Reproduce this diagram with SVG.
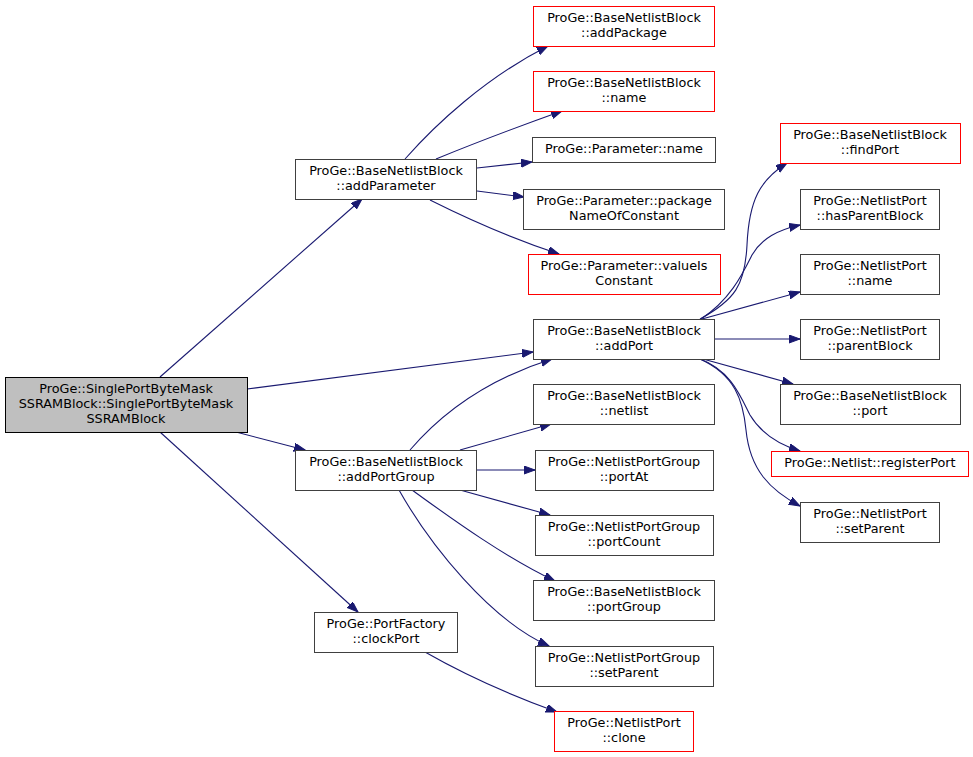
<svg xmlns="http://www.w3.org/2000/svg" width="973" height="757" viewBox="0 0 973 757">
<style>
rect{fill:#fff;stroke:#404040;stroke-width:1}
.r rect{stroke:#ff0000}
.root rect{fill:#bfbfbf;stroke:#000}
text{font-family:"DejaVu Sans","Liberation Sans",sans-serif;font-size:12.8px;text-anchor:middle;fill:#000}
#edges path{fill:none;stroke:#191970;stroke-width:1.1;marker-end:url(#ah)}
</style>
<defs>
<marker id="ah" markerUnits="userSpaceOnUse" markerWidth="12" markerHeight="9" refX="11" refY="4" orient="auto">
<path d="M0,0 L11,4 L0,8 z" fill="#191970" stroke="#191970" stroke-width="1"/>
</marker>
</defs>
<rect x="0" y="0" width="973" height="757" style="fill:#fff;stroke:none"/>
<g id="edges">
<path d="M160,377 L362,199"/>
<path d="M247,389 L533,352"/>
<path d="M236,432 L305,450"/>
<path d="M160,432 L358,612"/>
<path d="M405,159 C435,125 485,78 548,46"/>
<path d="M436,159 C470,145 520,126 562,111"/>
<path d="M477,168 L532,162"/>
<path d="M477,191 L524,197"/>
<path d="M430,200 C460,215 510,238 559,254"/>
<path d="M410,450 C440,415 485,380 552,359"/>
<path d="M460,450 L551,424"/>
<path d="M476,470 L535,470"/>
<path d="M460,490 L550,515"/>
<path d="M412,490 C440,510 500,555 555,581"/>
<path d="M399,490 C430,545 490,620 549,646"/>
<path d="M425,652 C460,672 510,695 557,712"/>
<path d="M700,319 C735,300 745,285 747,245 C749,200 760,180 787,163"/>
<path d="M701,319 C730,300 742,275 752,255 C762,238 778,230 800,225"/>
<path d="M702,319 L800,292"/>
<path d="M713,339 L800,339"/>
<path d="M703,359 L793,384"/>
<path d="M700,359 C730,370 740,395 750,415 C762,435 780,445 800,451"/>
<path d="M700,359 C735,375 743,400 746,430 C750,470 770,490 800,506"/>
</g>
<g id="root" class="root"><rect x="5.5" y="377.5" width="242" height="55"/><text x="126" y="393">ProGe::SinglePortByteMask</text><text x="126" y="408">SSRAMBlock::SinglePortByteMask</text><text x="126" y="423">SSRAMBlock</text></g>
<g id="addParameter"><rect x="295.5" y="159.5" width="181" height="40"/><text x="386" y="175">ProGe::BaseNetlistBlock</text><text x="386" y="190">::addParameter</text></g>
<g id="addPortGroup"><rect x="295.5" y="450.5" width="181" height="40"/><text x="386" y="466">ProGe::BaseNetlistBlock</text><text x="386" y="481">::addPortGroup</text></g>
<g id="clockPort"><rect x="314.5" y="612.5" width="143" height="40"/><text x="386" y="628">ProGe::PortFactory</text><text x="386" y="643">::clockPort</text></g>
<g id="addPackage" class="r"><rect x="533.5" y="6.5" width="181" height="40"/><text x="624" y="22">ProGe::BaseNetlistBlock</text><text x="624" y="37">::addPackage</text></g>
<g id="bnbName" class="r"><rect x="533.5" y="71.5" width="181" height="40"/><text x="624" y="87">ProGe::BaseNetlistBlock</text><text x="624" y="102">::name</text></g>
<g id="paramName"><rect x="532.5" y="137.5" width="183" height="25"/><text x="624" y="153">ProGe::Parameter::name</text></g>
<g id="packageNameOfConstant"><rect x="523.5" y="189.5" width="201" height="40"/><text x="624" y="205">ProGe::Parameter::package</text><text x="624" y="220">NameOfConstant</text></g>
<g id="valueIsConstant" class="r"><rect x="528.5" y="254.5" width="192" height="40"/><text x="624" y="270">ProGe::Parameter::valueIs</text><text x="624" y="285">Constant</text></g>
<g id="addPort"><rect x="533.5" y="319.5" width="181" height="40"/><text x="624" y="335">ProGe::BaseNetlistBlock</text><text x="624" y="350">::addPort</text></g>
<g id="netlist"><rect x="533.5" y="384.5" width="181" height="40"/><text x="624" y="400">ProGe::BaseNetlistBlock</text><text x="624" y="415">::netlist</text></g>
<g id="portAt"><rect x="535.5" y="450.5" width="178" height="40"/><text x="624" y="466">ProGe::NetlistPortGroup</text><text x="624" y="481">::portAt</text></g>
<g id="portCount"><rect x="535.5" y="515.5" width="178" height="40"/><text x="624" y="531">ProGe::NetlistPortGroup</text><text x="624" y="546">::portCount</text></g>
<g id="portGroup"><rect x="533.5" y="580.5" width="181" height="40"/><text x="624" y="596">ProGe::BaseNetlistBlock</text><text x="624" y="611">::portGroup</text></g>
<g id="npgSetParent"><rect x="535.5" y="646.5" width="178" height="40"/><text x="624" y="662">ProGe::NetlistPortGroup</text><text x="624" y="677">::setParent</text></g>
<g id="clone" class="r"><rect x="554.5" y="711.5" width="139" height="40"/><text x="624" y="727">ProGe::NetlistPort</text><text x="624" y="742">::clone</text></g>
<g id="findPort" class="r"><rect x="780.5" y="123.5" width="180" height="40"/><text x="870" y="139">ProGe::BaseNetlistBlock</text><text x="870" y="154">::findPort</text></g>
<g id="hasParentBlock"><rect x="800.5" y="189.5" width="139" height="40"/><text x="870" y="205">ProGe::NetlistPort</text><text x="870" y="220">::hasParentBlock</text></g>
<g id="npName"><rect x="800.5" y="254.5" width="139" height="40"/><text x="870" y="270">ProGe::NetlistPort</text><text x="870" y="285">::name</text></g>
<g id="parentBlock"><rect x="800.5" y="319.5" width="139" height="40"/><text x="870" y="335">ProGe::NetlistPort</text><text x="870" y="350">::parentBlock</text></g>
<g id="bnbPort"><rect x="780.5" y="384.5" width="180" height="40"/><text x="870" y="400">ProGe::BaseNetlistBlock</text><text x="870" y="415">::port</text></g>
<g id="registerPort" class="r"><rect x="771.5" y="451.5" width="197" height="25"/><text x="870" y="467">ProGe::Netlist::registerPort</text></g>
<g id="npSetParent"><rect x="800.5" y="502.5" width="139" height="40"/><text x="870" y="518">ProGe::NetlistPort</text><text x="870" y="533">::setParent</text></g>
</svg>
